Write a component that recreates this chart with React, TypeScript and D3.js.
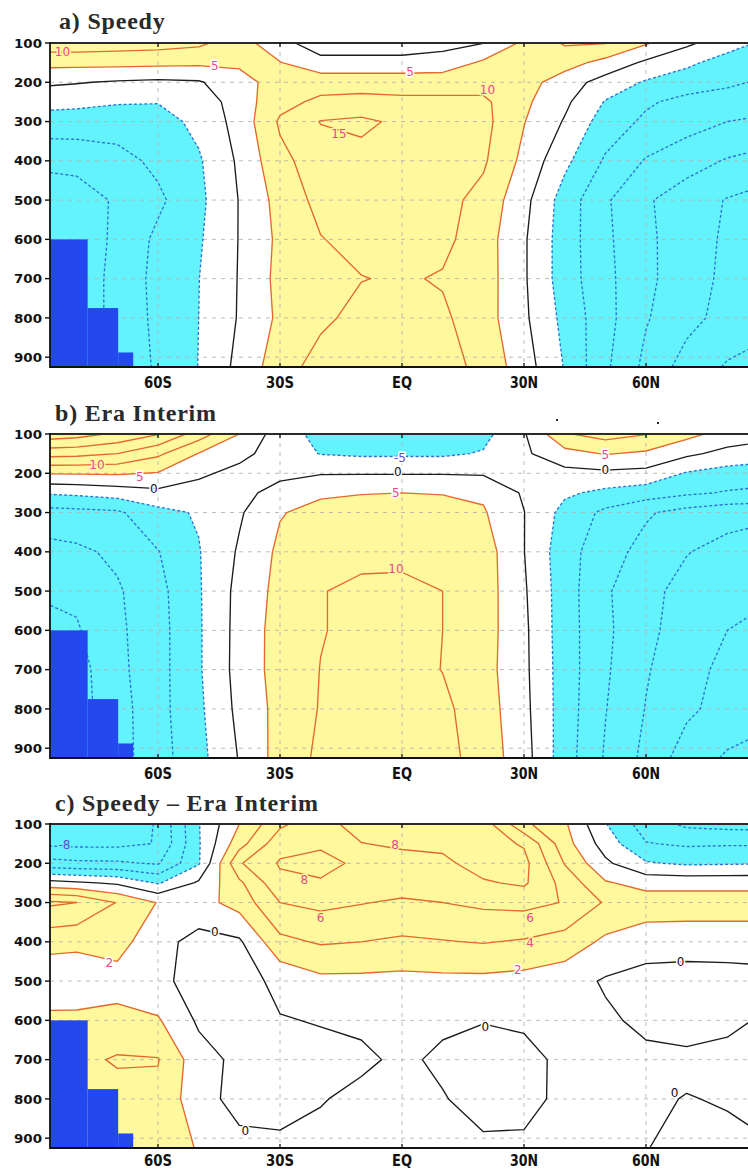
import React from 'react';
import * as d3 from 'd3';

// Grid columns (degrees north) and rows (hPa) shared by all three fields
const LATS = [-90, -80, -70, -60, -50, -40, -30, -20, -10, 0, 10, 20, 30, 40, 50, 60, 70, 80, 90];
const LEVELS = [100, 150, 200, 250, 300, 400, 500, 600, 700, 800, 925];

// Zonal-mean zonal wind (m/s), SPEEDY run; one row per pressure level
const speedyWind = [
  [13, 13, 12.5, 12, 11, 7.3, 1.5, -2.5, -2.5, -2.5, -1.5, -0.1, 6, 10.5, 10.2, 5.5, 1, -3, -6],
  [6.5, 6.5, 6.5, 6.3, 6, 5.8, 5.2, 1.5, 1.5, 1.5, 2, 5.8, 7, 7, 3.4, -0.9, -4, -7, -9],
  [1, 0.3, -0.5, -1, -0.5, 3.3, 7, 8, 8, 8, 8, 8, 7, 2.5, -2.1, -5.5, -7.5, -9, -11],
  [-3.3, -3.8, -4.6, -4.8, -3, 2.4, 8.5, 11, 11.5, 11, 11, 11, 6, 1, -5.3, -9.3, -11.5, -12.5, -13],
  [-7, -7.2, -7.5, -7, -3.7, 1.8, 10.7, 15.2, 16, 14, 13, 11.5, 5.2, -0.4, -7.4, -10.9, -13, -15, -16],
  [-14, -13.4, -11.8, -8.8, -5.6, 0.8, 8.7, 12.5, 13.5, 13, 12.5, 10.7, 3.7, -3.8, -10.6, -15.4, -18, -20.4, -22],
  [-18, -17.5, -14.3, -11, -6.2, 0.2, 6.8, 11.5, 12.5, 12.5, 11.5, 8.5, 1.5, -7.2, -14.3, -19.4, -22.5, -25.3, -27],
  [-19, -18, -14, -8.9, -5.6, 0.2, 6.1, 9.8, 11.5, 12, 11.2, 7.4, 0.6, -7.5, -14, -19, -22.6, -25.8, -28],
  [-20, -18, -13.5, -8.5, -5.1, 0.3, 6.5, 8, 9.85, 10.5, 9.6, 7.5, 0.6, -7.5, -13.7, -18.8, -23, -26, -28],
  [-20, -18, -13.5, -8.8, -5, 0.4, 6, 9, 11.5, 12, 10.8, 7.3, 0.9, -6.4, -13.3, -19.6, -23.4, -26.8, -28.5],
  [-20, -18, -14, -9.2, -4.9, 1.4, 7.8, 12, 13, 13, 12, 8.6, 2.3, -5.3, -14.1, -21.3, -27.1, -30.5, -32],
];

// Zonal-mean zonal wind (m/s), ERA-Interim
const eraWind = [
  [28.5, 27, 24, 20.3, 12.5, 5, -2.7, -6.5, -7.5, -7.5, -7, -6.5, -0.5, 9.5, 12, 10.2, 6.5, 3, 1.5],
  [17, 16.5, 15, 11, 4.8, 1.5, -2.5, -5.2, -5.8, -5.8, -5.8, -4.6, -0.8, 3.3, 5.3, 4.2, 1, -1.5, -2.5],
  [5.3, 5.4, 5.6, 4.7, 0.9, -1.5, -0.8, -0.3, -0.3, -0.3, -0.3, -0.5, -1, -1.5, -1, -1.5, -5.4, -7, -8],
  [-4.7, -4, -2.8, -1.3, -2, -1, 1.2, 4.3, 4.8, 5, 4.8, 4.2, -0.6, -4.2, -6.2, -7.6, -9.2, -10.4, -11],
  [-12, -11.4, -10.8, -6.5, -4.5, -0.6, 4.7, 6.5, 7, 7, 6.8, 5.5, 0.1, -6.6, -11.1, -14.4, -16.8, -18.3, -19],
  [-17, -16, -14, -10.2, -5.3, 0.6, 6, 8, 8.7, 8.7, 8.5, 7.5, 0.1, -8, -13, -16.6, -19.8, -21.5, -22.5],
  [-19.5, -19, -15.6, -11.5, -5.5, 1.5, 6.5, 9.8, 11, 11.2, 10, 7.5, 0.6, -7.7, -14.3, -18.7, -21.5, -23.5, -24.5],
  [-22, -20.5, -16, -11.8, -5.6, 1.7, 7, 9.8, 11, 11, 10, 7.3, 1, -7.7, -14, -18.8, -22.3, -25, -26],
  [-23, -22, -16.3, -11.8, -5.6, 1.8, 7, 10.1, 11.5, 11.5, 9.9, 7, 1.1, -7.5, -14.3, -19.6, -23, -26.5, -28],
  [-24, -22, -17, -11.7, -6, 1.3, 6.6, 10.3, 12.2, 12.5, 11, 7.5, 1.4, -7.5, -14.8, -20.2, -24, -27, -28.5],
  [-25, -22, -17, -12, -6.6, 0.3, 7, 11, 12.5, 12.7, 11.6, 8, 2, -7.7, -15.5, -21.3, -27.5, -30.6, -32],
];

// SPEEDY minus ERA-Interim (m/s)
const windDiff = [
  [-9, -9.5, -9.5, -7.8, -2.1, 2, 5.6, 7.3, 8.8, 9.5, 9.5, 9, 4.4, 2.3, -1.9, -5, -6.4, -6.7, -6.8],
  [-8.3, -8.5, -8.5, -7.9, -2.2, 3.2, 7.3, 7.7, 7.95, 8.3, 8.4, 8.8, 7.8, 2.8, -0.9, -3.9, -4.3, -4.2, -4.2],
  [-5.2, -5.6, -5.7, -6.2, -2.2, 5.8, 8.2, 8.6, 7.6, 7.3, 7.6, 8.8, 8.6, 3.9, 0.4, -1.8, -2.3, -2.2, -2.1],
  [0.9, 0.3, -0.3, -2.2, 0.3, 3.6, 7.5, 7.8, 7.3, 7, 7.3, 7.8, 8.3, 5.3, 2.2, 1.3, 1.3, 1.3, 1.3],
  [6.5, 6, 3.9, 1.9, 1.2, 2.8, 6, 6.5, 6.1, 5.7, 6, 6.4, 6.6, 5.9, 3.8, 3, 3, 3, 3],
  [2.8, 2.5, 2.8, 0.6, -0.6, -0.3, 3.5, 4.2, 4, 3.7, 3.9, 4.1, 3.8, 3.2, 1.6, 1, 0.9, 0.9, 0.9],
  [0.5, 0.6, 1.2, 0.5, -0.8, -0.8, 0.5, 1.5, 1.5, 1.4, 1.5, 1.5, 1.3, 0.8, -0.2, -0.8, -0.9, -0.8, -0.6],
  [2.5, 2.5, 2.6, 2.2, -0.3, -0.6, -0.1, 0.1, 0.3, 0.4, 0.3, 0.05, 0.2, 0.3, 0.3, -0.4, -0.6, -0.3, 0.2],
  [3, 3.5, 4.2, 4.1, 0.8, -0.5, -0.6, -0.5, -0.3, 0.3, -0.3, -0.5, -0.4, 0.3, 0.4, 0.4, 0.3, 0.4, 0.5],
  [3, 3.2, 3.3, 3.5, 0.8, -0.7, -0.7, -0.1, 0.4, 0.5, 0.1, -0.6, -0.5, 0.4, 0.3, 0.2, -0.05, 0.1, 0.2],
  [3, 3, 3, 2.8, 1.9, 0.6, 0.4, 0.5, 0.6, 0.6, 0.4, 0.3, 0.3, 0.5, 0.4, 0.03, -0.3, -0.3, -0.05],
];

const WIND_CONTOURS = [-30, -25, -20, -15, -10, -5, 0, 5, 10, 15, 20, 25];
const DIFF_CONTOURS = [-10, -8, -6, -4, -2, 0, 2, 4, 6, 8, 10];

// Below-ground cells over Antarctica (hPa of the surface step)
const terrain = [
  { latFrom: -90, latTo: -77.3, pTop: 600 },
  { latFrom: -77.3, latTo: -69.8, pTop: 775 },
  { latFrom: -69.8, latTo: -66.1, pTop: 888 },
];

const PRESSURE_TICKS = [100, 200, 300, 400, 500, 600, 700, 800, 900];
const LAT_TICKS = [-60, -30, 0, 30, 60];
const LAT_TICK_LABELS = ['60S', '30S', 'EQ', '30N', '60N'];

// Contour labels: contour value and where it sits (lat, hPa)
const speedyLabels = [
  { level: 10, lat: -83.5, p: 123 },
  { level: 5, lat: -46, p: 158 },
  { level: 5, lat: 2, p: 172 },
  { level: 10, lat: 21, p: 218 },
  { level: 15, lat: -15.5, p: 330 },
];
const eraLabels = [
  { level: 10, lat: -75, p: 179 },
  { level: 5, lat: -64.5, p: 208 },
  { level: 0, lat: -61, p: 240 },
  { level: -5, lat: -0.5, p: 160 },
  { level: 0, lat: -1, p: 196 },
  { level: 5, lat: -1.5, p: 250 },
  { level: 10, lat: -1.5, p: 443 },
  { level: 5, lat: 50, p: 152 },
  { level: 0, lat: 50, p: 190 },
];
const diffLabels = [
  { level: -8, lat: -83, p: 153 },
  { level: 8, lat: -24, p: 243 },
  { level: 6, lat: -20, p: 338 },
  { level: 8, lat: -1.7, p: 153 },
  { level: 6, lat: 31.5, p: 338 },
  { level: 4, lat: 31.5, p: 402 },
  { level: 2, lat: 28.5, p: 472 },
  { level: 2, lat: -72, p: 452 },
  { level: 0, lat: -46, p: 375 },
  { level: 0, lat: -38.5, p: 880 },
  { level: 0, lat: 20.5, p: 617 },
  { level: 0, lat: 68.5, p: 450 },
  { level: 0, lat: 67, p: 783 },
];

const YELLOW = '#fff89c';
const CYAN = '#62f3fc';
const GROUND = '#2348ee';
const POS_LINE = '#e36a2c';
const NEG_LINE = '#2e74cf';
const ZERO_LINE = '#1c1c1c';
const POS_TEXT = '#e6498a';
const NEG_TEXT = '#5b4fd6';

const WIDTH = 748;
const HEIGHT = 1171;
const LEFT = 50;
const RIGHT = 754;
const PLOT_H = 324;

const xScale = d3.scaleLinear().domain([-30, 30]).range([280, 524]);
const colToLat = d3.scaleLinear().domain([0, LATS.length - 1]).range([LATS[0], LATS[LATS.length - 1]]);
const rowToP = d3.scaleLinear().domain(LEVELS.map((_, i) => i)).range(LEVELS);

const panels = [
  { id: 'a', title: 'a) Speedy', titleX: 59, titleY: 29, top: 43, grid: speedyWind, contours: WIND_CONTOURS, shade: 5, labels: speedyLabels },
  { id: 'b', title: 'b) Era Interim', titleX: 55, titleY: 421, top: 434, grid: eraWind, contours: WIND_CONTOURS, shade: 5, labels: eraLabels },
  { id: 'c', title: 'c) Speedy \u2013 Era Interim', titleX: 55, titleY: 811, top: 824, grid: windDiff, contours: DIFF_CONTOURS, shade: 2, labels: diffLabels },
];

function Panel({ cfg }: { cfg: any }) {
  const bottom = cfg.top + PLOT_H;
  const y = d3.scaleLinear().domain([100, 925]).range([cfg.top, bottom]);
  const values: number[] = cfg.grid.flat();
  const gen = d3.contours().size([LATS.length, LEVELS.length]);
  const path = d3.geoPath(
    d3.geoTransform({
      point(cx: number, cy: number) {
        (this as any).stream.point(xScale(colToLat(cx - 0.5)), y(rowToP(cy - 0.5)));
      },
    })
  );
  const above = path(gen.contour(values, cfg.shade) as any) || '';
  const below = path(gen.contour(values.map((v) => -v), cfg.shade) as any) || '';
  const isolines = cfg.contours.map((level: number) => ({
    level,
    d: path(gen.contour(values, level) as any) || '',
  }));
  const clipId = `plot-clip-${cfg.id}`;
  const latLabelY = Math.min(bottom + 21, HEIGHT - 5);

  return (
    <g>
      <text x={cfg.titleX} y={cfg.titleY} fontFamily="'Liberation Serif', 'Times New Roman', serif" fontWeight="bold" fontSize={24} letterSpacing={0.8} fill="#2a2a2a">
        {cfg.title}
      </text>
      <defs>
        <clipPath id={clipId}>
          <rect x={LEFT} y={cfg.top} width={RIGHT - LEFT} height={PLOT_H} />
        </clipPath>
      </defs>
      <g clipPath={`url(#${clipId})`}>
        <rect x={LEFT} y={cfg.top} width={RIGHT - LEFT} height={PLOT_H} fill="#ffffff" />
        <path d={above} fill={YELLOW} fillRule="evenodd" />
        <path d={below} fill={CYAN} fillRule="evenodd" />
        {PRESSURE_TICKS.slice(1).map((p) => (
          <line key={`h${p}`} x1={LEFT} x2={RIGHT} y1={y(p)} y2={y(p)} stroke="#b4b4b4" strokeWidth={0.9} strokeDasharray="4 5" />
        ))}
        {LAT_TICKS.map((lat) => (
          <line key={`v${lat}`} x1={xScale(lat)} x2={xScale(lat)} y1={cfg.top} y2={bottom} stroke="#b4b4b4" strokeWidth={0.9} strokeDasharray="4 5" />
        ))}
        {isolines.map((c: any) => (
          <path
            key={`c${c.level}`}
            d={c.d}
            fill="none"
            stroke={c.level > 0 ? POS_LINE : c.level < 0 ? NEG_LINE : ZERO_LINE}
            strokeWidth={1.35}
            strokeDasharray={c.level < 0 ? '3 2.2' : undefined}
            strokeLinejoin="round"
          />
        ))}
        {terrain.map((t, i) => (
          <rect key={`t${i}`} x={xScale(t.latFrom)} y={y(t.pTop)} width={xScale(t.latTo) - xScale(t.latFrom)} height={bottom - y(t.pTop)} fill={GROUND} />
        ))}
        {cfg.labels.map((lb: any, i: number) => {
          const halo = lb.level > cfg.shade ? YELLOW : lb.level < -cfg.shade ? CYAN : '#ffffff';
          const color = lb.level > 0 ? POS_TEXT : lb.level < 0 ? NEG_TEXT : '#111111';
          return (
            <text
              key={`l${i}`}
              x={xScale(lb.lat)}
              y={y(lb.p)}
              dy="0.36em"
              textAnchor="middle"
              fontFamily="'DejaVu Sans', sans-serif"
              fontSize={12}
              fill={color}
              stroke={halo}
              strokeWidth={3}
              paintOrder="stroke"
            >
              {lb.level}
            </text>
          );
        })}
      </g>
      {/* frame */}
      <line x1={LEFT} x2={RIGHT} y1={cfg.top} y2={cfg.top} stroke="#2a2a2a" strokeWidth={1.8} />
      <line x1={LEFT} x2={RIGHT} y1={bottom} y2={bottom} stroke="#111" strokeWidth={1.8} />
      <line x1={LEFT} x2={LEFT} y1={cfg.top - 0.9} y2={bottom + 0.9} stroke="#111" strokeWidth={1.8} />
      {PRESSURE_TICKS.map((p) => (
        <g key={`pt${p}`}>
          <line x1={LEFT - 5} x2={LEFT} y1={y(p)} y2={y(p)} stroke="#111" strokeWidth={1.4} />
          <text x={42} y={y(p) + 4.6} textAnchor="end" fontFamily="'DejaVu Sans', sans-serif" fontWeight="bold" fontSize={13} textLength={28} lengthAdjust="spacingAndGlyphs" fill="#111">
            {p}
          </text>
        </g>
      ))}
      {LAT_TICKS.map((lat, i) => (
        <g key={`lt${lat}`}>
          <line x1={xScale(lat)} x2={xScale(lat)} y1={bottom} y2={bottom - 4} stroke="#111" strokeWidth={1.3} />
          <line x1={xScale(lat)} x2={xScale(lat)} y1={cfg.top} y2={cfg.top + 4} stroke="#111" strokeWidth={1.3} />
          <text
            x={xScale(lat)}
            y={latLabelY}
            textAnchor="middle"
            fontFamily="'DejaVu Sans', sans-serif"
            fontWeight="bold"
            fontSize={16}
            textLength={LAT_TICK_LABELS[i].length === 2 ? 20 : 28}
            lengthAdjust="spacingAndGlyphs"
            fill="#111"
          >
            {LAT_TICK_LABELS[i]}
          </text>
        </g>
      ))}
    </g>
  );
}

export default function App() {
  return (
    <svg
      width={WIDTH}
      height={HEIGHT}
      viewBox={`0 0 ${WIDTH} ${HEIGHT}`}
      style={{ position: 'absolute', left: 0, top: 0, background: '#ffffff' }}
    >
      <rect x={0} y={0} width={WIDTH} height={HEIGHT} fill="#ffffff" />
      {panels.map((cfg) => (
        <Panel key={cfg.id} cfg={cfg} />
      ))}
      <rect x={556} y={419} width={2} height={2} fill="#222" />
      <rect x={657} y={422} width={2} height={2} fill="#222" />
    </svg>
  );
}
